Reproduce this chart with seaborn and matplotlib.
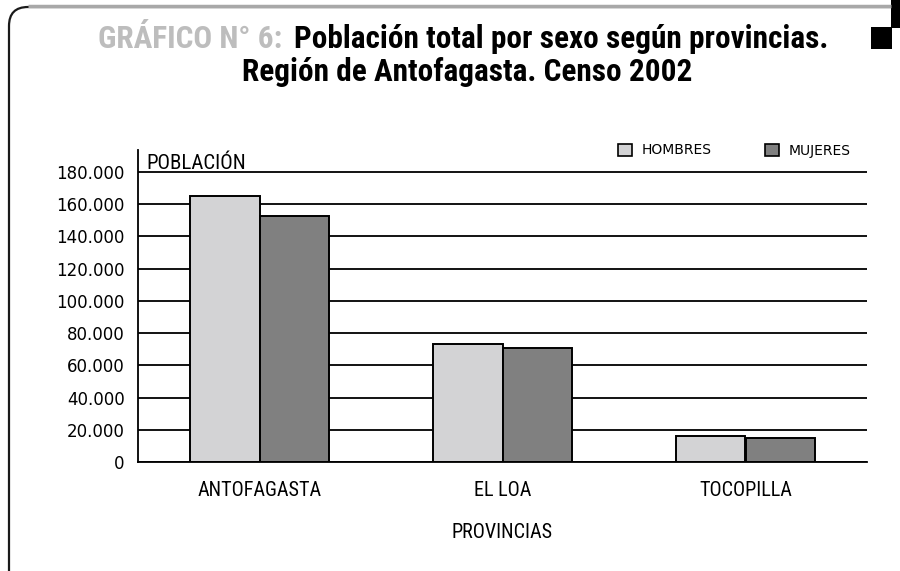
import matplotlib
matplotlib.use("Agg")
import matplotlib.pyplot as plt
import seaborn as sns
import pandas as pd
from matplotlib.patches import Rectangle, PathPatch
from matplotlib.path import Path
from matplotlib.ticker import FuncFormatter, FixedLocator

provincias = ["ANTOFAGASTA", "EL LOA", "TOCOPILLA"]
hombres = [165300, 73200, 16100]
mujeres = [152700, 70800, 14900]
series = ["HOMBRES", "MUJERES"]
yticks = [0, 20000, 40000, 60000, 80000, 100000, 120000, 140000, 160000, 180000]

df = pd.DataFrame({
    "provincia": provincias * 2,
    "sexo": [series[0]] * 3 + [series[1]] * 3,
    "valor": hombres + mujeres,
})

sns.set_theme(style="white")
FAM = ["Roboto Condensed", "Liberation Sans Narrow", "Roboto", "DejaVu Sans"]
PLAIN = ["DejaVu Sans"]
plt.rcParams["font.family"] = FAM

fig = plt.figure(figsize=(9, 5.71), dpi=100)
renderer = fig.canvas.get_renderer()

# background frame in pixel coordinates
bg = fig.add_axes([0, 0, 1, 1], zorder=0)
bg.set_xlim(0, 900)
bg.set_ylim(571, 0)
bg.axis("off")
verts = [(9, 571), (9, 26), (9, 7), (28, 7), (891, 7)]
codes = [Path.MOVETO, Path.LINETO, Path.CURVE3, Path.CURVE3, Path.LINETO]
bg.add_patch(PathPatch(Path(verts, codes), fill=False, edgecolor="#1a1a1a", lw=1.6))
bg.plot([28, 891], [6, 6], color="#a8a8a8", lw=2.5, solid_capstyle="butt")
bg.add_patch(Rectangle((871, 27), 21, 22, facecolor="black", edgecolor="none"))
bg.add_patch(Rectangle((891, 0), 9, 28, facecolor="black", edgecolor="none"))

# titles
TS = 22.5
t_g = bg.text(0, 48, "GRÁFICO N° 6:", ha="left", va="baseline", fontsize=TS,
              fontweight="bold", color="#bdbdbd")
t_b = bg.text(0, 48, "Población total por sexo según provincias.", ha="left",
              va="baseline", fontsize=TS, fontweight="bold", color="black")
w_g = t_g.get_window_extent(renderer).width
w_b = t_b.get_window_extent(renderer).width
gap = 12
x_start = 463 - (w_g + gap + w_b) / 2
t_g.set_x(x_start)
t_b.set_x(x_start + w_g + gap)
bg.text(467, 81, "Región de Antofagasta. Censo 2002", ha="center", va="baseline",
        fontsize=TS, fontweight="bold", color="black")

# legend (manual)
colors = ["#d3d3d5", "#808080"]
for x0, lab, c in [(618, series[0], colors[0]), (765, series[1], colors[1])]:
    bg.add_patch(Rectangle((x0, 144), 14, 12, facecolor=c, edgecolor="black", lw=1.2))
    bg.text(x0 + 24, 150.5, lab, ha="left", va="center", fontsize=10,
            family=PLAIN, color="black")

ax = fig.add_axes([138 / 900, 1 - 462 / 571, 729 / 900, 312 / 571], zorder=1)
ax.patch.set_alpha(0)
sns.barplot(data=df, x="provincia", y="valor", hue="sexo", order=provincias,
            hue_order=series, palette=colors, width=0.57, edgecolor="black",
            linewidth=1.4, saturation=1, legend=False, ax=ax, errorbar=None)

ax.set_xlim(-0.5, 2.5)
ax.set_ylim(0, 180000 * 312 / 290)
ax.yaxis.set_major_locator(FixedLocator(yticks))
ax.yaxis.set_major_formatter(FuncFormatter(lambda v, p: f"{int(v):,}".replace(",", ".")))
ax.yaxis.grid(True, color="black", lw=1.3)
ax.set_axisbelow(True)
ax.xaxis.grid(False)

ax.set_xticks([-0.5, 0.5, 1.5, 2.5])
ax.set_xticklabels([])
ax.set_xticks([0, 1, 2], minor=True)
ax.set_xticklabels(provincias, minor=True)
ax.tick_params(axis="x", which="major", direction="out", length=7, width=1.3, color="black")
ax.tick_params(axis="x", which="minor", length=0, pad=14, labelsize=14.5, labelcolor="black")
ax.tick_params(axis="y", direction="out", length=8, width=1.3, color="black",
               labelsize=12, labelcolor="black", pad=1.5)
for lab in ax.get_xticklabels(minor=True):
    lab.set_family(FAM)
for lab in ax.get_yticklabels():
    lab.set_family(PLAIN)

for s in ["top", "right"]:
    ax.spines[s].set_visible(False)
for s in ["left", "bottom"]:
    ax.spines[s].set_visible(True)
    ax.spines[s].set_color("black")
    ax.spines[s].set_linewidth(1.3)

ax.set_ylabel("")
ax.set_xlabel("PROVINCIAS", fontsize=14.5, color="black", labelpad=16)
ax.text(0.012, 181900, "POBLACIÓN", transform=ax.get_yaxis_transform(),
        ha="left", va="baseline", fontsize=15, color="black")

fig.savefig("out.png", dpi=100)
